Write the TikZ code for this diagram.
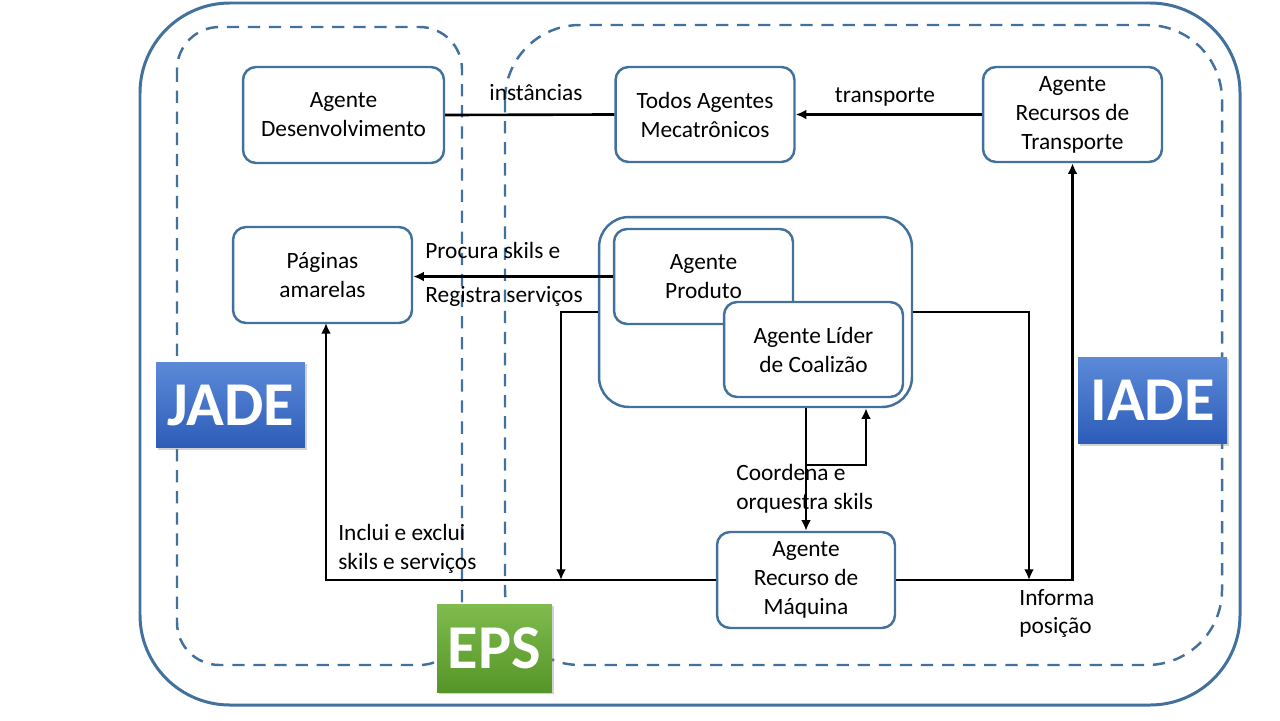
\documentclass[tikz,border=0pt]{standalone}
\usepackage{fontspec}
\setmainfont{Carlito}
\usetikzlibrary{arrows.meta,shadows}
\definecolor{frame}{HTML}{41719C}
\definecolor{jtop}{HTML}{5C8AD8}
\definecolor{jbot}{HTML}{2D5CB9}
\definecolor{gtop}{HTML}{80BB4E}
\definecolor{gbot}{HTML}{559527}
\tikzset{
  agent/.style={draw=frame, line width=1.4pt, rounded corners=0.26cm, fill=white, align=center,
    minimum width=3.58cm, minimum height=1.9cm, inner sep=2pt,
    font=\fontsize{13.3}{16.5}\selectfont},
  lbl/.style={align=left, anchor=west, inner sep=0pt, font=\fontsize{13.3}{16.4}\selectfont},
  clbl/.style={align=center, inner sep=0pt, font=\fontsize{13.3}{16.4}\selectfont},
  conn/.style={line width=1.5pt, black},
  arr/.style={conn, -{Latex[length=6pt,width=5.5pt]}},
  dashframe/.style={draw=frame, line width=1.4pt, dash pattern=on 7pt off 5pt},
  badge/.style={text=white, font=\fontsize{35.5}{40}\selectfont\bfseries, inner sep=0pt,
    drop shadow={shadow xshift=1.2pt, shadow yshift=-1.2pt, opacity=0.35}},
}
\begin{document}
\begin{tikzpicture}[x=0.02cm, y=-0.02cm]
\useasboundingbox (0,0) rectangle (1280,720);
\fill[white] (0,0) rectangle (1280,720);
% frames
\draw[frame, line width=1.7pt, rounded corners=1.8cm] (140,3) rectangle (1240,705);
\draw[dashframe, rounded corners=0.85cm] (177,27) rectangle (462,665);
\draw[dashframe, rounded corners=1.5cm] (505,25) rectangle (1222,665);

% nodes
\node[agent, minimum width=4.02cm, minimum height=1.92cm] (Desenv) at (343.5,115) {Agente\\Desenvolvimento};
\node[agent] (Todos) at (705,114.5) {Todos Agentes\\Mecatrônicos};
\node[agent] (Transp) at (1072.5,114.5) {Agente\\Recursos de\\Transporte};
\node[agent, minimum height=1.92cm] (Paginas) at (322.5,275) {Páginas\\amarelas};
\node[agent, minimum width=6.26cm, minimum height=3.8cm, rounded corners=0.6cm] (Cont) at (755.5,312) {};
\node[agent] (Produto) at (703.5,276.5) {Agente\\Produto};
\node[agent] (Lider) at (813.5,349.5) {Agente Líder\\de Coalizão};
\node[agent, minimum width=3.56cm, minimum height=1.92cm] (Maquina) at (806,580) {Agente\\Recurso de\\Máquina};

% badges
\node[badge, minimum width=2.98cm, minimum height=1.72cm, top color=jtop, bottom color=jbot] (JADE) at (230.5,405) {JADE};
\node[badge, minimum width=2.98cm, minimum height=1.74cm, top color=jtop, bottom color=jbot] (IADE) at (1152.5,400.5) {IADE};
\node[badge, minimum width=2.3cm, minimum height=1.76cm, top color=gtop, bottom color=gbot] (EPS) at (494.5,648) {EPS};

% coordinates
\coordinate (cL) at (561,312);
\coordinate (cR) at (1029,312);
\coordinate (fb) at (866,465);
\coordinate (pg) at (326,323);

% connectors
\draw[conn] (Desenv.east) -- (Todos.west);
\draw[arr] (Transp.west) -- (Todos.east);
\draw[arr] (Produto.west) -- (Paginas.east |- Produto.west);
\draw[arr] (Cont.west) -- (cL) -- (cL |- Maquina.west);
\draw[arr] (Maquina.west) -- (pg |- Maquina.west) -- (pg);
\draw[arr] (Maquina.north |- Cont.south) -- (Maquina.north);
\draw[arr] (Maquina.north |- fb) -- (fb) -- (fb |- Cont.south);
\draw[arr] (Cont.east) -- (cR) -- (cR |- Maquina.east);
\draw[arr] (Maquina.east) -- (Transp.south |- Maquina.east) -- (Transp.south);

% labels
\node[clbl] (linst) at (536,93) {instâncias};
\node[clbl] (ltransp) at (885,97) {transporte};
\node[lbl] (lproc) at (425,250) {Procura skils e};
\node[lbl] (lreg) at (425,296) {Registra serviços};
\node[lbl] (lincl) at (338,548.5) {Inclui e exclui\\skils e serviços};
\node[lbl] (lcoord) at (736,489) {Coordena e\\orquestra skils};
\node[lbl] (linf) at (1019,613.5) {Informa\\posição};
\end{tikzpicture}
\end{document}
